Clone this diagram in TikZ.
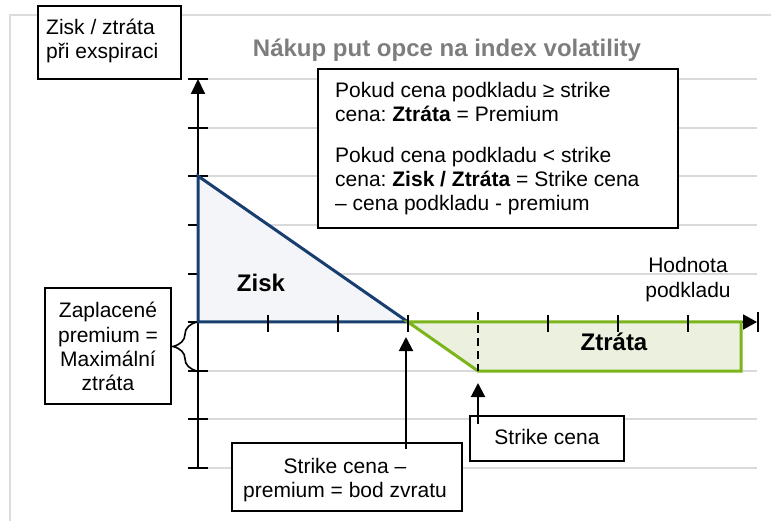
\documentclass[tikz,border=0pt]{standalone}
\usepackage{fontspec}
\setmainfont{Liberation Sans}
\usetikzlibrary{arrows.meta,decorations.pathreplacing}
\definecolor{navy}{RGB}{24,62,112}
\definecolor{bluefill}{RGB}{243,245,249}
\definecolor{leaf}{RGB}{124,180,28}
\definecolor{greenfill}{RGB}{235,241,222}
\definecolor{gridgray}{RGB}{217,217,217}
\definecolor{framegray}{RGB}{220,220,220}
\definecolor{titlegray}{RGB}{125,125,125}
\frenchspacing
\begin{document}
\begin{tikzpicture}[x=1pt,y=-1pt,
  txt/.style={font=\fontsize{21pt}{24pt}\selectfont, inner sep=0pt},
  boldlbl/.style={font=\fontsize{24pt}{28pt}\selectfont\bfseries, inner sep=0pt},
  titlefont/.style={font=\fontsize{24pt}{28pt}\selectfont\bfseries, text=titlegray, inner sep=0pt},
  boxnode/.style={draw=black, line width=2pt, fill=white, inner sep=0pt},
  gridln/.style={draw=gridgray, line width=2pt},
  tickln/.style={draw=black, line width=2pt},
  pointer/.style={draw=black, line width=2pt, -{Triangle[length=14pt,width=14pt]}}]
\useasboundingbox (0,0) rectangle (771,521);
% frame
\draw[framegray, line width=2.5pt] (10,521) -- (10,15) -- (771,15);
% grid lines
\foreach \yy in {79,128,176,225,274,371,419,468}
  \draw[gridln] (208,\yy) -- (757,\yy);
% axes
\coordinate (yb) at (198,468);
\coordinate (yt) at (198,79);
\coordinate (xl) at (198,322);
\coordinate (xr) at (757,322);
\draw[line width=2pt, -{Triangle[length=15pt,width=14pt]}] (yb) -- (yt);
\draw[line width=2pt, -{Triangle[length=14pt,width=15pt]}] (xl) -- (xr);
% y ticks
\foreach \yy in {128,176,225,274,322,371,419,468}
  \draw[tickln] (188,\yy) -- (208,\yy);
\draw[tickln] (188,79) -- (208,79);
% profit triangle
\coordinate (pA) at (198,176);
\coordinate (pB) at (408,322);
\coordinate (pC) at (198,322);
\filldraw[fill=bluefill, draw=navy, line width=3pt, line join=miter] (pA) -- (pB) -- (pC) -- cycle;
% loss area
\coordinate (lA) at (408,322);
\coordinate (lB) at (478,371);
\coordinate (lC) at (741,371);
\coordinate (lD) at (741,322);
\filldraw[fill=greenfill, draw=leaf, line width=3pt, line join=miter] (lA) -- (lB) -- (lC) -- (lD) -- cycle;
% x ticks
\foreach \xx in {268,338,408,548,618,688}
  \draw[tickln] (\xx,315) -- (\xx,332);
\draw[tickln] (758,312) -- (758,332);
% dashed strike line
\coordinate (dT) at (478,312);
\coordinate (dB) at (478,371);
\draw[black, line width=2pt, dash pattern=on 8pt off 5pt] (dT) -- (dB);
% brace
\coordinate (brB) at (197,371);
\coordinate (brT) at (197,322);
\draw[line width=1.6pt, decorate, decoration={brace, amplitude=24pt}] (brB) -- (brT);
% title
\node[titlefont, anchor=base] (ttl) at (447,57) {Nákup put opce na index volatility};
% top-left box
\node[boxnode, minimum width=143pt, minimum height=73pt] (bxZ) at (109.5,42.5) {};
\node[txt, anchor=base west] (zz1) at (46,35) {Zisk / ztráta};
\node[txt, anchor=base west] (zz2) at (46,59) {při exspiraci};
% top-right box
\node[boxnode, minimum width=360pt, minimum height=159pt] (bxC) at (498,148.5) {};
\node[txt, anchor=base west] (c1) at (335,98) {Pokud cena podkladu ≥ strike};
\node[txt, anchor=base west] (c2) at (335,122) {cena: \textbf{Ztráta} = Premium};
\node[txt, anchor=base west] (c3) at (335,163) {Pokud cena podkladu < strike};
\node[txt, anchor=base west] (c4) at (335,187) {cena: \textbf{Zisk / Ztráta} = Strike cena};
\node[txt, anchor=base west] (c5) at (335,211) {– cena podkladu - premium};
% left box
\node[boxnode, minimum width=126pt, minimum height=116pt] (bxL) at (108,346) {};
\node[txt, anchor=base] (l1) at (108,318) {Zaplacené};
\node[txt, anchor=base] (l2) at (108,342) {premium =};
\node[txt, anchor=base] (l3) at (108,366) {Maximální};
\node[txt, anchor=base] (l4) at (108,390) {ztráta};
% axis label
\node[txt, anchor=base, fill=white, minimum width=133pt] (h1) at (688,273) {Hodnota};
\node[txt, anchor=base] (h2) at (688,298) {podkladu};
% area labels
\node[boldlbl, anchor=base] (zisk) at (261,292) {Zisk};
\node[boldlbl, anchor=base] (ztr) at (614,350) {Ztráta};
% strike box
\node[boxnode, minimum width=154pt, minimum height=45pt] (bxS) at (547,438.5) {};
\node[txt, anchor=base] (s1) at (547,444) {Strike cena};
% break-even box
\node[boxnode, minimum width=230pt, minimum height=68pt] (bxB) at (347,477) {};
\node[txt, anchor=base] (b1) at (345,473) {Strike cena –};
\node[txt, anchor=base] (b2) at (345,497) {premium = bod zvratu};
% pointers
\coordinate (tipS) at (478,383);
\coordinate (tipB) at (406,337);
\draw[pointer] ([yshift=-9pt]bxS.north -| tipS) -- (tipS);
\draw[pointer] ([yshift=-7pt]bxB.north -| tipB) -- (tipB);
\end{tikzpicture}
\end{document}
